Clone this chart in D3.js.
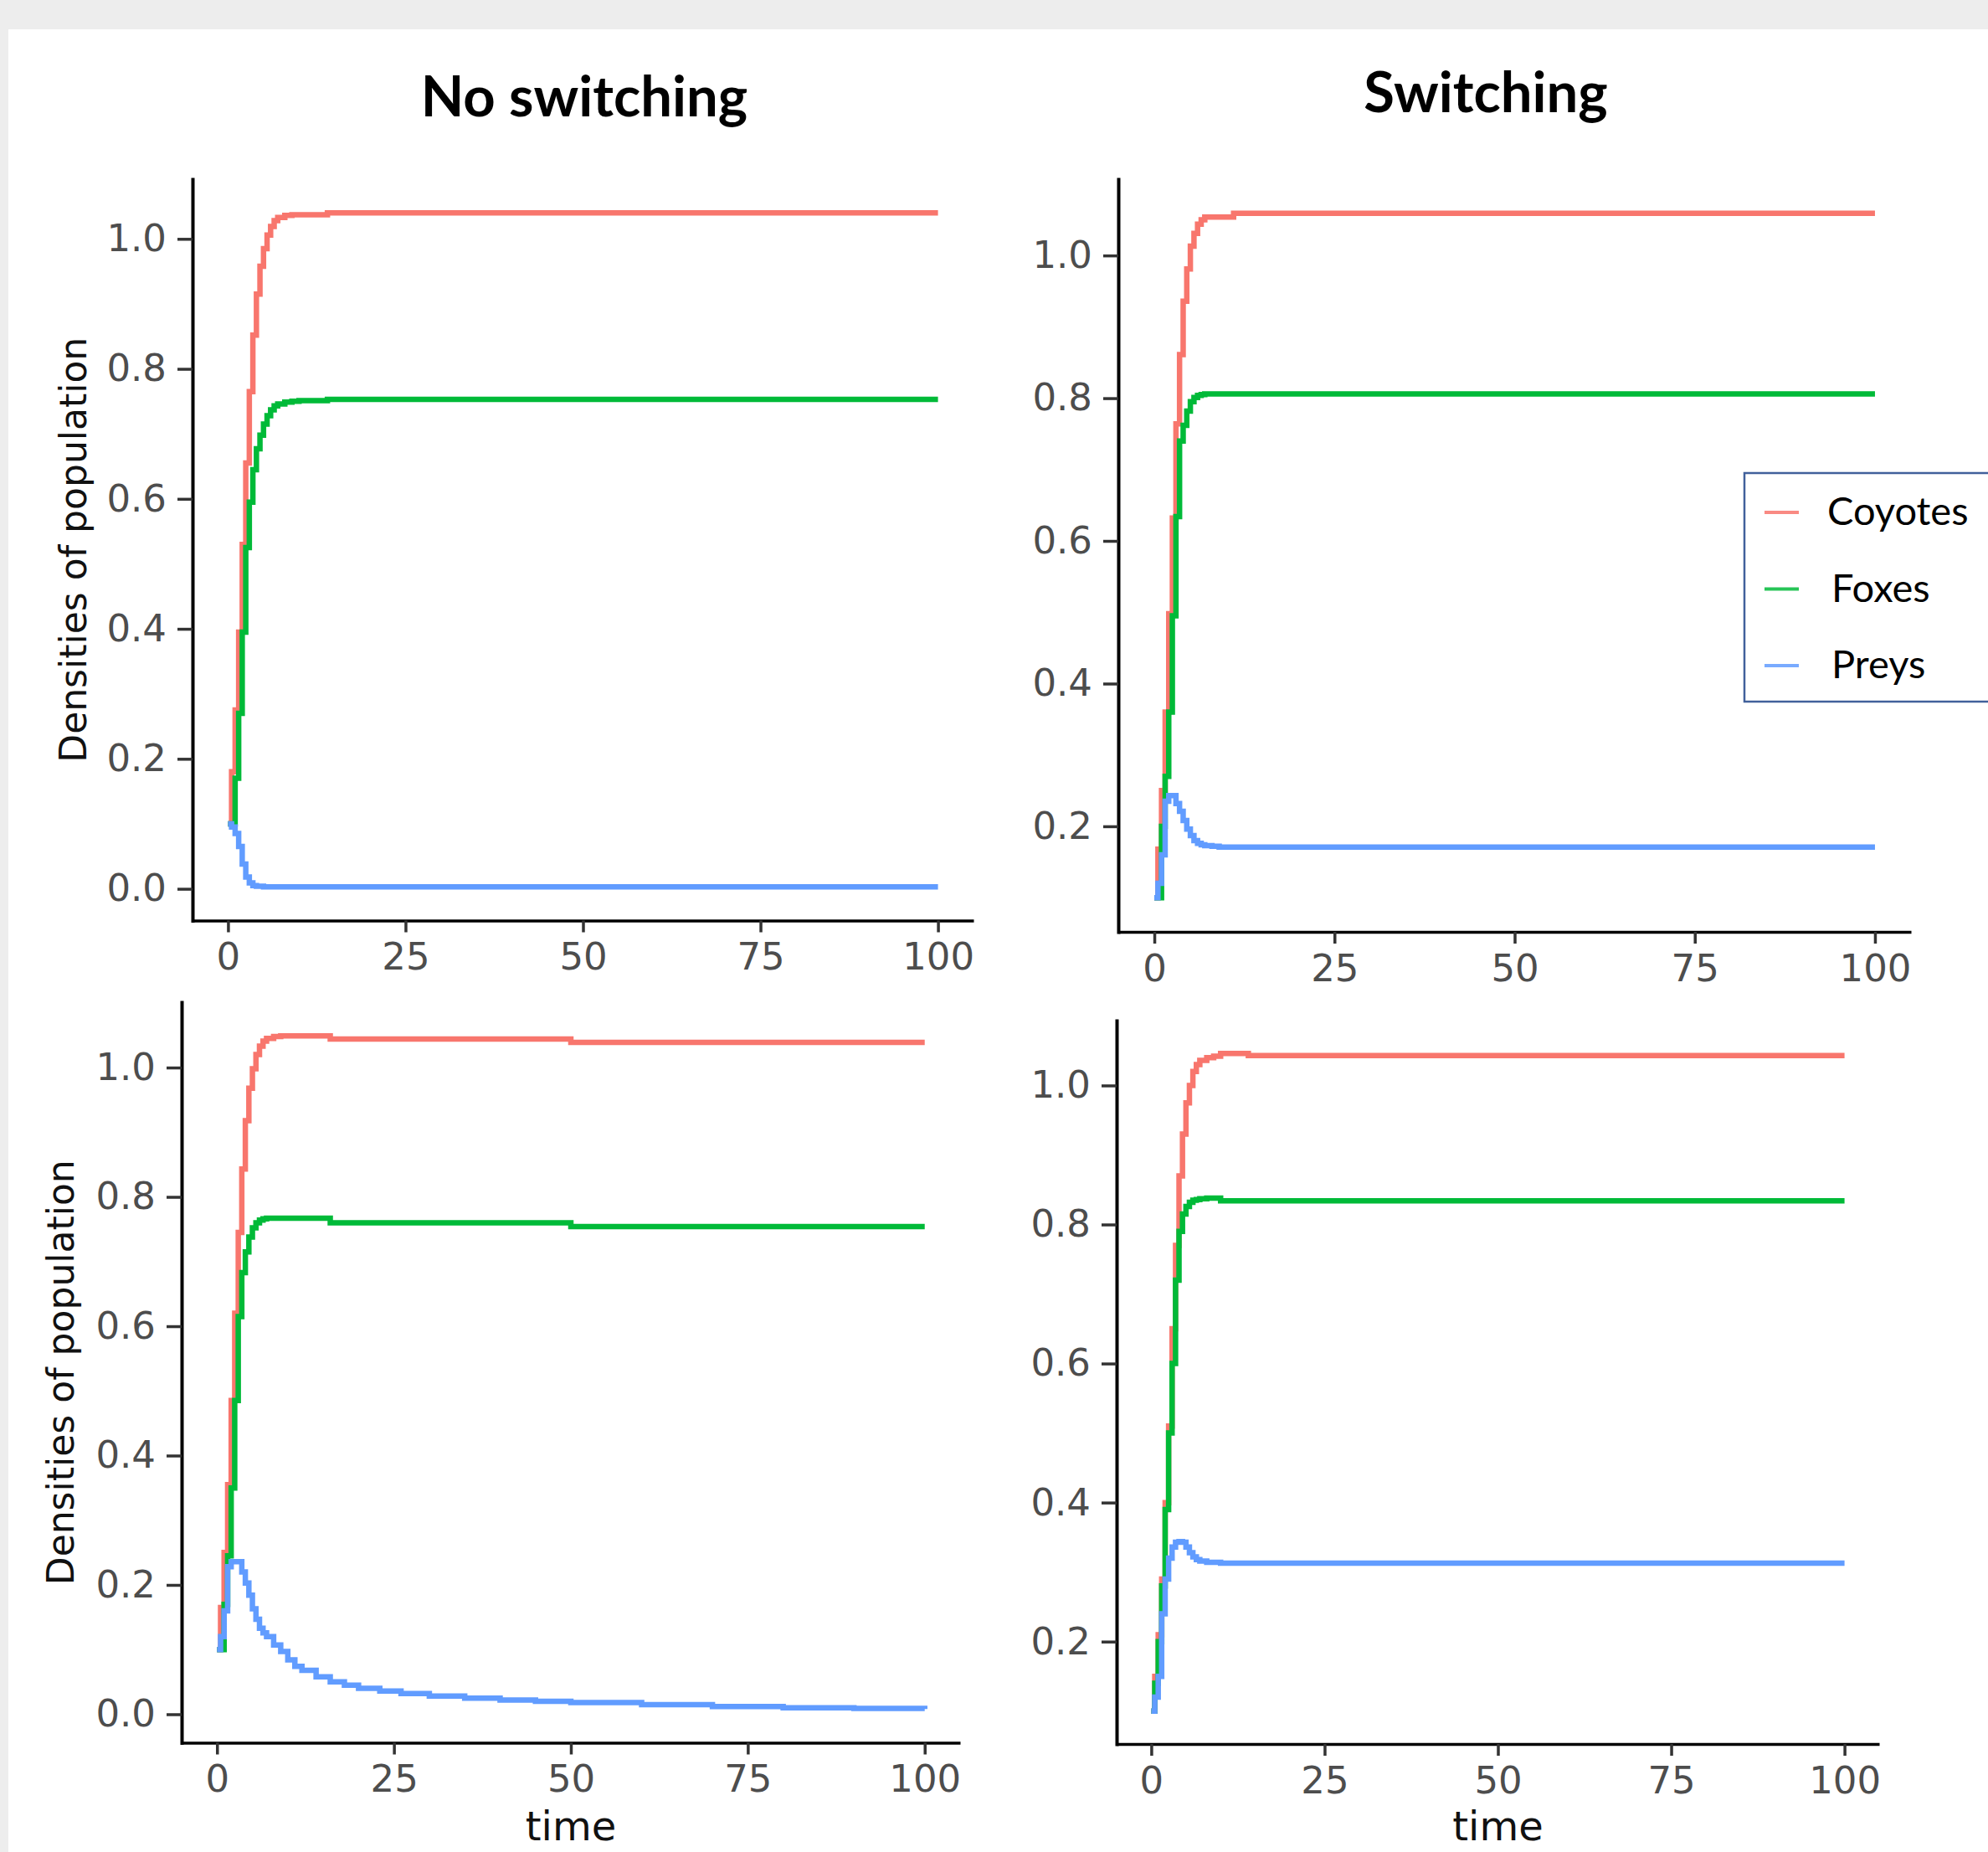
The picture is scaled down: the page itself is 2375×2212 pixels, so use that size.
<!DOCTYPE html>
<html>
<head>
<meta charset="utf-8">
<script src="https://cdn.jsdelivr.net/npm/d3@7/dist/d3.min.js"></script>
<style>
    body { margin: 0; background: #ededed; }
    .tick text { font-family: "DejaVu Sans", sans-serif; font-size: 45px; fill: #4d4d4d; }
    .col-title { font-family: Lato, "Open Sans", sans-serif; font-weight: bold; font-size: 67px; fill: #000; }
    .axis-title { font-family: "DejaVu Sans", sans-serif; fill: #111; }
    .legend-label { font-family: Lato, "Open Sans", sans-serif; font-size: 47px; fill: #000; }
</style>
</head>
<body>
<div id="chart"></div>
<script>

// time points of the model output (shared by all four runs)
const timePoints = [0, 0.5, 1, 1.5, 2, 2.5, 3, 3.5, 4, 4.5, 5, 5.5, 6, 6.5, 7, 8, 9, 10, 11, 12,
    14, 16, 18, 20, 23, 26, 30, 35, 40, 45, 50, 60, 70, 80, 90, 100];

const species = ["Coyotes", "Foxes", "Preys"];
const speciesColors = ["#F8766D", "#00BA38", "#619CFF"];
const columnTitles = ["No switching", "Switching"];
const xTicks = [0, 25, 50, 75, 100];
const yTicks = [0, 0.2, 0.4, 0.6, 0.8, 1.0];

// top left: no switching
const coyotesTopNoSwitch = [0.10, 0.18, 0.275, 0.395, 0.53, 0.655, 0.765, 0.852, 0.915, 0.958,
    0.985, 1.006, 1.019, 1.028, 1.033, 1.036, 1.037, 1.037, 1.037, 1.037,
    1.040, 1.040, 1.040, 1.040, 1.040, 1.040, 1.040, 1.040, 1.040, 1.040, 1.040, 1.040, 1.040, 1.040, 1.040, 1.040];
const foxesTopNoSwitch = [0.10, 0.10, 0.17, 0.27, 0.395, 0.525, 0.595, 0.645, 0.677, 0.698,
    0.715, 0.728, 0.737, 0.743, 0.746, 0.749, 0.750, 0.751, 0.751, 0.751,
    0.753, 0.753, 0.753, 0.753, 0.753, 0.753, 0.753, 0.753, 0.753, 0.753, 0.753, 0.753, 0.753, 0.753, 0.753, 0.753];
const preysTopNoSwitch = [0.10, 0.095, 0.085, 0.065, 0.038, 0.018, 0.009, 0.005, 0.004, 0.004,
    0.003, 0.003, 0.003, 0.003, 0.003, 0.003, 0.003, 0.003, 0.003, 0.003,
    0.003, 0.003, 0.003, 0.003, 0.003, 0.003, 0.003, 0.003, 0.003, 0.003, 0.003, 0.003, 0.003, 0.003, 0.003, 0.003];

// top right: switching
const coyotesTopSwitch = [0.10, 0.168, 0.25, 0.36, 0.498, 0.632, 0.764, 0.861, 0.936, 0.981,
    1.013, 1.031, 1.044, 1.050, 1.054, 1.054, 1.054, 1.054, 1.059, 1.059,
    1.059, 1.059, 1.059, 1.059, 1.059, 1.059, 1.059, 1.059, 1.059, 1.059, 1.059, 1.059, 1.059, 1.059, 1.059, 1.059];
const foxesTopSwitch = [0.10, 0.10, 0.20, 0.27, 0.36, 0.495, 0.634, 0.74, 0.762, 0.782,
    0.795, 0.801, 0.804, 0.805, 0.806, 0.806, 0.806, 0.806, 0.806, 0.806,
    0.806, 0.806, 0.806, 0.806, 0.806, 0.806, 0.806, 0.806, 0.806, 0.806, 0.806, 0.806, 0.806, 0.806, 0.806, 0.806];
const preysTopSwitch = [0.10, 0.12, 0.16, 0.235, 0.243, 0.243, 0.232, 0.221, 0.208, 0.196,
    0.187, 0.180, 0.176, 0.174, 0.173, 0.172, 0.171, 0.171, 0.171, 0.171,
    0.171, 0.171, 0.171, 0.171, 0.171, 0.171, 0.171, 0.171, 0.171, 0.171, 0.171, 0.171, 0.171, 0.171, 0.171, 0.171];

// bottom left: no switching
const coyotesBottomNoSwitch = [0.10, 0.165, 0.25, 0.355, 0.485, 0.62, 0.745, 0.843, 0.918, 0.968,
    0.998, 1.020, 1.033, 1.041, 1.045, 1.048, 1.049, 1.049, 1.049, 1.049,
    1.049, 1.044, 1.044, 1.044, 1.044, 1.044, 1.044, 1.044, 1.044, 1.044, 1.039, 1.039, 1.039, 1.039, 1.039, 1.039];
const foxesBottomNoSwitch = [0.10, 0.10, 0.17, 0.245, 0.35, 0.485, 0.615, 0.683, 0.715, 0.738,
    0.752, 0.760, 0.764, 0.766, 0.767, 0.767, 0.767, 0.767, 0.767, 0.767,
    0.767, 0.760, 0.760, 0.760, 0.760, 0.760, 0.760, 0.760, 0.760, 0.760, 0.754, 0.754, 0.754, 0.754, 0.754, 0.754];
const preysBottomNoSwitch = [0.10, 0.12, 0.16, 0.228, 0.236, 0.236, 0.236, 0.22, 0.203, 0.184,
    0.163, 0.147, 0.133, 0.126, 0.120, 0.107, 0.097, 0.084, 0.074, 0.068,
    0.058, 0.050, 0.045, 0.040, 0.036, 0.032, 0.028, 0.025, 0.022, 0.020, 0.018, 0.015, 0.012, 0.010, 0.009, 0.008];

// bottom right: switching
const coyotesBottomSwitch = [0.10, 0.15, 0.21, 0.29, 0.40, 0.51, 0.65, 0.77, 0.87, 0.93,
    0.975, 1.000, 1.020, 1.030, 1.036, 1.040, 1.042, 1.046, 1.046, 1.046,
    1.043, 1.043, 1.043, 1.043, 1.043, 1.043, 1.043, 1.043, 1.043, 1.043, 1.043, 1.043, 1.043, 1.043, 1.043, 1.043];
const foxesBottomSwitch = [0.10, 0.14, 0.20, 0.28, 0.39, 0.50, 0.60, 0.72, 0.79, 0.815,
    0.826, 0.832, 0.835, 0.836, 0.837, 0.838, 0.838, 0.834, 0.834, 0.834,
    0.834, 0.834, 0.834, 0.834, 0.834, 0.834, 0.834, 0.834, 0.834, 0.834, 0.834, 0.834, 0.834, 0.834, 0.834, 0.834];
const preysBottomSwitch = [0.10, 0.12, 0.15, 0.24, 0.29, 0.32, 0.336, 0.343, 0.344, 0.343,
    0.336, 0.328, 0.322, 0.318, 0.316, 0.314, 0.314, 0.313, 0.313, 0.313,
    0.313, 0.313, 0.313, 0.313, 0.313, 0.313, 0.313, 0.313, 0.313, 0.313, 0.313, 0.313, 0.313, 0.313, 0.313, 0.313];


/*
 * PopulationPanel - one ggplot-like panel with three step lines
 */
class PopulationPanel {

    constructor(_svg, _layout, _series) {
        this.svg = _svg;
        this.layout = _layout;
        this.series = _series;
        this.initVis();
    }

    initVis() {
        let vis = this;
        let L = vis.layout;

        vis.g = vis.svg.append("g");

        // ggplot style 5% expansion of the data range
        let allValues = vis.series.flat();
        let lo = d3.min(allValues), hi = d3.max(allValues);
        let pad = (hi - lo) * 0.05;

        vis.x = d3.scaleLinear()
            .domain([d3.min(timePoints) - 5, d3.max(timePoints) + 5])
            .range([L.left, L.right]);

        vis.y = d3.scaleLinear()
            .domain([lo - pad, hi + pad])
            .range([L.bottom, L.top]);

        vis.xAxis = d3.axisBottom(vis.x).tickValues(xTicks).tickSize(14).tickSizeOuter(0).tickPadding(13);
        vis.yAxis = d3.axisLeft(vis.y)
            .tickValues(yTicks.filter(d => d >= lo - pad && d <= hi + pad))
            .tickFormat(d3.format(".1f"))
            .tickSize(18).tickSizeOuter(0).tickPadding(13);

        vis.line = d3.line()
            .x(d => vis.x(d.t))
            .y(d => vis.y(d.v))
            .curve(d3.curveStepAfter);

        vis.wrangleData();
    }

    wrangleData() {
        let vis = this;
        vis.displayData = species.map((name, i) => ({
            key: name,
            color: speciesColors[i],
            values: timePoints.map((t, j) => ({t: t, v: vis.series[i][j]}))
        }));
        vis.updateVis();
    }

    updateVis() {
        let vis = this;
        let L = vis.layout;

        vis.g.selectAll(".pop-line")
            .data(vis.displayData)
            .enter()
            .append("path")
            .attr("class", "pop-line")
            .attr("d", d => vis.line(d.values))
            .attr("fill", "none")
            .attr("stroke", d => d.color)
            .attr("stroke-width", 6.5)
            .attr("stroke-linejoin", "miter");

        let xg = vis.g.append("g")
            .attr("transform", "translate(0," + L.bottom + ")")
            .call(vis.xAxis);
        xg.select(".domain").attr("stroke", "#000").attr("stroke-width", 3.5);
        xg.selectAll(".tick line").attr("stroke", "#333").attr("stroke-width", 3.5);

        let yg = vis.g.append("g")
            .attr("transform", "translate(" + L.left + ",0)")
            .call(vis.yAxis);
        yg.select(".domain").attr("stroke", "#000").attr("stroke-width", 4)
            .attr("stroke-linecap", "square");
        yg.selectAll(".tick line").attr("stroke", "#333").attr("stroke-width", 3.5);

        if (L.yTitle) {
            vis.g.append("text")
                .attr("class", "axis-title")
                .attr("transform", "translate(" + L.yTitle + "," + (L.top + L.bottom) / 2 + ") rotate(-90)")
                .attr("text-anchor", "middle")
                .attr("dy", "0.35em")
                .style("font-size", "44px")
                .text("Densities of population");
        }
        if (L.xTitle) {
            vis.g.append("text")
                .attr("class", "axis-title")
                .attr("x", (L.left + L.right) / 2)
                .attr("y", L.xTitle)
                .attr("text-anchor", "middle")
                .style("font-size", "48px")
                .text("time");
        }
    }
}


const svg = d3.select("#chart").append("svg")
    .attr("width", 2375)
    .attr("height", 2212)
    .style("display", "block");

svg.append("rect").attr("width", 2375).attr("height", 2212).attr("fill", "#ededed");
svg.append("rect").attr("x", 10).attr("y", 35).attr("width", 2365).attr("height", 2177).attr("fill", "#fff");

// column titles
svg.append("text").attr("class", "col-title")
    .attr("x", 698).attr("y", 139).attr("text-anchor", "middle").text(columnTitles[0]);
svg.append("text").attr("class", "col-title")
    .attr("x", 1775).attr("y", 134).attr("text-anchor", "middle").text(columnTitles[1]);

new PopulationPanel(svg, {left: 230, right: 1163, top: 214, bottom: 1099.5, yTitle: 88},
    [coyotesTopNoSwitch, foxesTopNoSwitch, preysTopNoSwitch]);
new PopulationPanel(svg, {left: 1336, right: 2283, top: 214, bottom: 1113},
    [coyotesTopSwitch, foxesTopSwitch, preysTopSwitch]);
new PopulationPanel(svg, {left: 217, right: 1147, top: 1197, bottom: 2081.5, yTitle: 73, xTitle: 2198},
    [coyotesBottomNoSwitch, foxesBottomNoSwitch, preysBottomNoSwitch]);
new PopulationPanel(svg, {left: 1334, right: 2245, top: 1219, bottom: 2083, xTitle: 2198},
    [coyotesBottomSwitch, foxesBottomSwitch, preysBottomSwitch]);

// legend (runs off the right edge, as in the source figure)
let legend = svg.append("g");
legend.append("rect")
    .attr("x", 2084).attr("y", 565)
    .attr("width", 330).attr("height", 273)
    .attr("fill", "#fff")
    .attr("stroke", "#41609b")
    .attr("stroke-width", 2.5);

let rowY = d3.scalePoint().domain(species).range([612, 795]);

species.forEach((name, i) => {
    legend.append("line")
        .attr("x1", 2108).attr("x2", 2149)
        .attr("y1", rowY(name)).attr("y2", rowY(name))
        .attr("stroke", speciesColors[i])
        .attr("stroke-width", 4)
        .attr("stroke-opacity", 0.85);
    legend.append("text")
        .attr("class", "legend-label")
        .attr("x", i === 0 ? 2183 : 2188)
        .attr("y", rowY(name) + 15)
        .text(name);
});

</script>
</body>
</html>
